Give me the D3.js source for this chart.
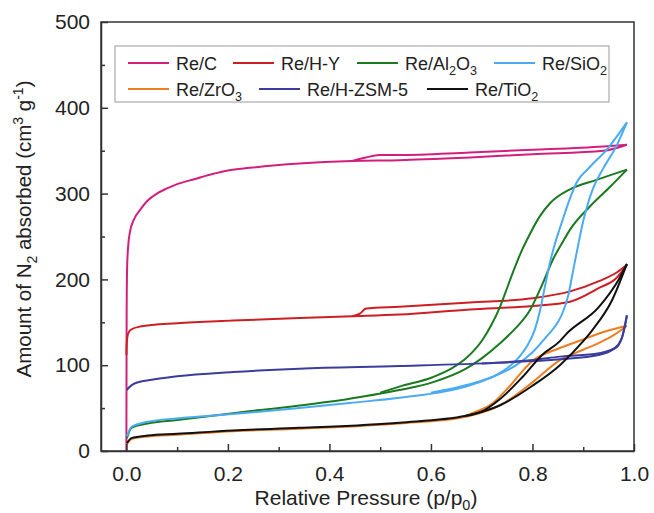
<!DOCTYPE html>
<html>
<head>
<meta charset="utf-8">
<script src="https://cdn.jsdelivr.net/npm/d3@7"></script>
<style>
  html, body { margin: 0; padding: 0; background: #fff; }
  svg { display: block; font-family: "Liberation Sans", Arial, sans-serif; }
</style>
</head>
<body>
<svg id="chart" width="654" height="513"></svg>
<script>
// ---------------- DATA ----------------
const seriesNames = ["Re/C", "Re/H-Y", "Re/Al_2O_3", "Re/SiO_2", "Re/ZrO_3", "Re/H-ZSM-5", "Re/TiO_2"];
const seriesColors = ["#d21f7c", "#cc1f24", "#1b7a1f", "#4aabf2", "#ee7d22", "#3b3d9c", "#111111"];

const xTicks = [0, 0.2, 0.4, 0.6, 0.8, 1.0];
const xMinorTicks = [0.1, 0.3, 0.5, 0.7, 0.9];
const yTicks = [0, 100, 200, 300, 400, 500];
const yMinorTicks = [50, 150, 250, 350, 450];

// adsorption (ads) and desorption (des) branches, [p/p0, amount]
const reC_ads = [[0,0],[0.0005,160],[0.0015,215],[0.004,242],[0.007,255],[0.015,270],[0.027,281],[0.042,292],[0.06,300],[0.08,306],[0.1,311],[0.135,317],[0.164,322],[0.2,327],[0.243,330],[0.341,335],[0.445,338],[0.538,339],[0.677,342],[0.8,346],[0.94,350],[0.986,357]];
const reC_des = [[0.445,338],[0.472,342],[0.498,345],[0.538,345],[0.677,348],[0.8,351],[0.94,355],[0.986,357]];

const reHY_ads = [[0,112],[0.001,128],[0.003,136],[0.008,141],[0.027,145],[0.1,149],[0.21,152],[0.341,155],[0.445,157],[0.538,159],[0.677,165],[0.8,169],[0.874,174],[0.931,190],[0.966,202],[0.986,217]];
const reHY_des = [[0.445,157],[0.46,160],[0.472,166],[0.538,168],[0.677,173],[0.8,178],[0.874,186],[0.931,198],[0.966,208],[0.986,217]];

const reAl_ads = [[0.001,15],[0.01,27],[0.042,32],[0.1,36],[0.21,44],[0.341,53],[0.44,61],[0.538,71],[0.603,80],[0.669,96],[0.7,108],[0.735,125],[0.765,142],[0.795,164],[0.82,195],[0.841,224],[0.86,244],[0.874,258],[0.913,285],[0.953,308],[0.986,328]];
const reAl_des = [[0.5,68],[0.538,75],[0.603,86],[0.64,96],[0.669,108],[0.702,130],[0.72,148],[0.736,168],[0.75,190],[0.762,209],[0.78,235],[0.795,253],[0.815,274],[0.835,289],[0.874,305],[0.926,316],[0.986,328]];

const reSi_ads = [[0.001,17],[0.01,28],[0.042,34],[0.1,38],[0.21,43],[0.341,50],[0.44,56],[0.538,62],[0.669,75],[0.72,86],[0.768,100],[0.8,115],[0.83,135],[0.85,150],[0.86,162],[0.87,180],[0.88,210],[0.89,240],[0.9,268],[0.91,290],[0.92,307],[0.94,330],[0.965,355],[0.986,383]];
const reSi_des = [[0.6,68],[0.67,77],[0.736,91],[0.77,107],[0.789,122],[0.805,142],[0.815,164],[0.825,193],[0.835,221],[0.845,243],[0.857,265],[0.873,293],[0.887,313],[0.913,331],[0.946,351],[0.986,383]];

const reZr_ads = [[0.001,8],[0.01,14],[0.042,17],[0.1,19],[0.21,23],[0.341,26],[0.538,32],[0.669,40],[0.702,45],[0.735,53],[0.8,80],[0.854,106],[0.9,118],[0.931,126],[0.96,135],[0.986,146]];
const reZr_des = [[0.669,41],[0.69,46],[0.722,56],[0.748,71],[0.8,105],[0.854,120],[0.9,130],[0.931,137],[0.986,146]];

const reZSM_ads = [[0.001,71],[0.005,74],[0.017,79],[0.05,83],[0.1,87],[0.21,92],[0.341,96],[0.538,99],[0.735,103],[0.854,107],[0.93,112],[0.96,119],[0.975,130],[0.986,158]];
const reZSM_des = [[0.7,102],[0.8,106],[0.854,110],[0.931,114],[0.966,121],[0.98,140],[0.986,158]];

const reTi_ads = [[0.001,9],[0.01,15],[0.042,18],[0.1,20],[0.21,24],[0.341,27],[0.538,33],[0.669,41],[0.702,46],[0.735,53],[0.8,76],[0.854,100],[0.9,128],[0.918,141],[0.957,176],[0.986,218]];
const reTi_des = [[0.669,41],[0.7,46],[0.735,60],[0.78,86],[0.819,112],[0.854,128],[0.866,136],[0.931,168],[0.97,200],[0.986,218]];

const adsBranches = [reC_ads, reHY_ads, reAl_ads, reSi_ads, reZr_ads, reZSM_ads, reTi_ads];
const desBranches = [reC_des, reHY_des, reAl_des, reSi_des, reZr_des, reZSM_des, reTi_des];

// ---------------- LAYOUT ----------------
const svg = d3.select("#chart");
const L = 101, R = 634, T = 22, B = 451;
const x = d3.scaleLinear().domain([-0.05, 1.0]).range([L, R]);
const y = d3.scaleLinear().domain([0, 500]).range([B, T]);
const textColor = "#222";

// curves
const line = d3.line().x(d => x(d[0])).y(d => y(d[1])).curve(d3.curveMonotoneX);
const gCurves = svg.append("g");
seriesNames.forEach((n, i) => {
  [adsBranches[i], desBranches[i]].forEach(br => {
    gCurves.append("path")
      .attr("d", line(br))
      .attr("fill", "none")
      .attr("stroke", seriesColors[i])
      .attr("stroke-width", 2)
      .attr("stroke-linejoin", "round");
  });
});

// frame
svg.append("rect").attr("x", L).attr("y", T).attr("width", R - L).attr("height", B - T)
  .attr("fill", "none").attr("stroke", "#333").attr("stroke-width", 1.5);

// axes (ticks inward)
const xAxis = d3.axisBottom(x).tickValues(xTicks).tickFormat(d3.format(".1f")).tickSizeInner(-7).tickSizeOuter(0).tickPadding(15);
svg.append("g").attr("transform", `translate(0,${B})`).call(xAxis);
const xMinor = d3.axisBottom(x).tickValues(xMinorTicks).tickFormat("").tickSizeInner(-4).tickSizeOuter(0);
svg.append("g").attr("transform", `translate(0,${B})`).call(xMinor).select(".domain").remove();

const yAxis = d3.axisLeft(y).tickValues(yTicks).tickSizeInner(-7).tickSizeOuter(0).tickPadding(11);
svg.append("g").attr("transform", `translate(${L},0)`).call(yAxis);
const yMinor = d3.axisLeft(y).tickValues(yMinorTicks).tickFormat("").tickSizeInner(-4).tickSizeOuter(0);
svg.append("g").attr("transform", `translate(${L},0)`).call(yMinor).select(".domain").remove();

svg.selectAll(".domain").attr("stroke", "#333").attr("stroke-width", 1.5);
svg.selectAll(".tick line").attr("stroke", "#333").attr("stroke-width", 1.5);
svg.selectAll(".tick text").attr("fill", textColor).style("font-size", "21px")
  .style("font-family", '"Liberation Sans", Arial, sans-serif');

// helper for subscript labels: "_2" subscript
function richText(sel, str, size) {
  const parts = str.split(/(_[^_ ])/).filter(s => s.length);
  let shift = 0;
  parts.forEach(p => {
    let target = 0, txt = p, fs = size;
    if (p[0] === "_") { target = size * 0.3; txt = p.slice(1); fs = size * 0.7; }
    sel.append("tspan").attr("dy", target - shift).style("font-size", fs + "px").text(txt);
    shift = target;
  });
}

// axis titles
const xt = svg.append("text").attr("x", 366).attr("y", 505).attr("text-anchor", "middle")
  .attr("fill", textColor).style("font-size", "21px");
xt.append("tspan").text("Relative Pressure (p/p");
xt.append("tspan").attr("dy", 5).style("font-size", "14.5px").text("0");
xt.append("tspan").attr("dy", -5).text(")");

const yt = svg.append("text").attr("transform", "translate(31,229) rotate(-90)")
  .attr("text-anchor", "middle").attr("fill", textColor).style("font-size", "20.5px");
yt.append("tspan").text("Amount of N");
yt.append("tspan").attr("dy", 6).style("font-size", "14px").text("2");
yt.append("tspan").attr("dy", -6).text(" absorbed (cm");
yt.append("tspan").attr("dy", -8).style("font-size", "14px").text("3");
yt.append("tspan").attr("dy", 8).text(" g");
yt.append("tspan").attr("dy", -8).style("font-size", "14px").text("-1");
yt.append("tspan").attr("dy", 8).text(")");

// legend
const legendX1 = [128, 233, 357, 494, 128, 259, 427];
const legendRowY = [63, 63, 63, 63, 89, 89, 89];
const legendLineLen = 41;
const legendTextGap = 7;
svg.append("rect").attr("x", 115).attr("y", 46).attr("width", 609 - 115).attr("height", 102 - 46)
  .attr("fill", "#fff").attr("stroke", "#aaa").attr("stroke-width", 1.2);
seriesNames.forEach((n, i) => {
  const lx = legendX1[i], ly = legendRowY[i];
  svg.append("line").attr("x1", lx).attr("x2", lx + legendLineLen).attr("y1", ly).attr("y2", ly)
    .attr("stroke", seriesColors[i]).attr("stroke-width", 2);
  const t = svg.append("text").attr("x", lx + legendLineLen + legendTextGap).attr("y", ly + 6.5)
    .attr("fill", textColor).style("font-size", "18px");
  richText(t, n, 18);
});
</script>
</body>
</html>
